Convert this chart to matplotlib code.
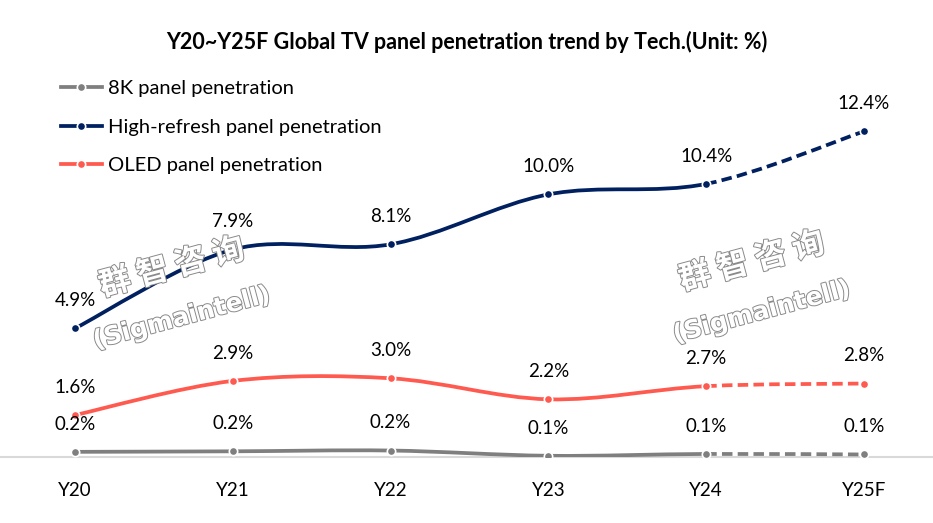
import matplotlib
matplotlib.use("Agg")
import matplotlib.pyplot as plt
import matplotlib.patheffects as pe
from matplotlib.path import Path
from matplotlib.patches import PathPatch
from matplotlib.lines import Line2D

plt.rcParams['font.family'] = ['Lato', 'DejaVu Sans']

# data
years = ['Y20', 'Y21', 'Y22', 'Y23', 'Y24', 'Y25F']
pen_8k = [0.2, 0.2, 0.2, 0.1, 0.1, 0.1]
pen_high_refresh = [4.9, 7.9, 8.1, 10.0, 10.4, 12.4]
pen_oled = [1.6, 2.9, 3.0, 2.2, 2.7, 2.8]

# 8K values are rounded; small offsets make the curve look like the source
pen_8k_plot = [0.2, 0.22, 0.25, 0.05, 0.12, 0.1]

series = [
    ('8K panel penetration', pen_8k, pen_8k_plot, '#7f7f7f'),
    ('High-refresh panel penetration', pen_high_refresh, pen_high_refresh, '#002060'),
    ('OLED panel penetration', pen_oled, pen_oled, '#ff5a4f'),
]

LW = 2.7


def smooth_path(xs, ys, i0, i1):
    """Excel-like smoothed line between points i0..i1 as cubic Bezier path."""
    n = len(xs)
    verts = [(xs[i0], ys[i0])]
    codes = [Path.MOVETO]
    for i in range(i0, i1):
        p0 = (xs[max(i - 1, 0)], ys[max(i - 1, 0)])
        p1 = (xs[i], ys[i])
        p2 = (xs[i + 1], ys[i + 1])
        p3 = (xs[min(i + 2, n - 1)], ys[min(i + 2, n - 1)])
        c1 = (p1[0] + (p2[0] - p0[0]) / 6, p1[1] + (p2[1] - p0[1]) / 6)
        c2 = (p2[0] - (p3[0] - p1[0]) / 6, p2[1] - (p3[1] - p1[1]) / 6)
        verts += [c1, c2, p2]
        codes += [Path.CURVE4] * 3
    return Path(verts, codes)


fig = plt.figure(figsize=(9.33, 5.23), dpi=100)
ax = fig.add_axes([0, 0.126, 1, 0.8037])
x = list(range(len(years)))
ax.set_xlim(-0.475, 5.437)
ax.set_ylim(0, 16)

for name, vals, plot_vals, col in series:
    solid = PathPatch(smooth_path(x, plot_vals, 0, 4), fill=False,
                      edgecolor=col, lw=LW, capstyle='round', zorder=3)
    dashed = PathPatch(smooth_path(x, plot_vals, 4, 5), fill=False,
                       edgecolor=col, lw=LW, linestyle=(0, (2.8, 1.4)), zorder=3)
    ax.add_patch(solid)
    ax.add_patch(dashed)
    ax.plot(x, plot_vals, 'o', ms=6, color=col, mec='white', mew=1.2, zorder=4)
    for xi, v, pv in zip(x, vals, plot_vals):
        ax.annotate(f'{v:.1f}%', (xi, pv), xytext=(0, 20), textcoords='offset points',
                    ha='center', va='center', fontsize=13.5, color='black', zorder=5)

# axes styling
for s in ['top', 'right', 'left']:
    ax.spines[s].set_visible(False)
ax.spines['bottom'].set_color('#d9d9d9')
ax.spines['bottom'].set_linewidth(1.5)
ax.set_yticks([])
ax.set_xticks(x)
ax.set_xticklabels(years, fontsize=13.5)
ax.tick_params(axis='x', length=0, pad=18)

fig.text(0.5, 0.92, 'Y20~Y25F Global TV panel penetration trend by Tech.(Unit: %)',
         ha='center', va='center', fontsize=15.5, fontweight='bold')

handles = [Line2D([0], [0], color=col, lw=LW, marker='o', ms=6, mec='white', mew=1.2)
           for _, _, _, col in series]
fig.legend(handles, [s[0] for s in series], loc='upper left',
           bbox_to_anchor=(0.057, 0.862), frameon=False, fontsize=14.5,
           handlelength=2.0, handletextpad=0.3, labelspacing=1.05, borderaxespad=0)

# watermarks
wm_fx = [pe.withStroke(linewidth=1.4, foreground='#8a8a8a')]
for cx, cy in [(172, 268), (752, 262)]:
    fig.text(cx / 933, 1 - cy / 523, '群 智 咨 询', ha='center', va='center',
             rotation=15, fontsize=23, fontweight='heavy', color='white',
             family=['Noto Sans CJK SC', 'DejaVu Sans'], path_effects=wm_fx, zorder=10)
    fig.text((cx + 10) / 933, 1 - (cy + 50) / 523, '(Sigmaintell)', ha='center',
             va='center', rotation=15, fontsize=18, fontweight='bold', color='white',
             family=['DejaVu Sans'], path_effects=wm_fx, zorder=10)

fig.savefig('out.png', dpi=100)
